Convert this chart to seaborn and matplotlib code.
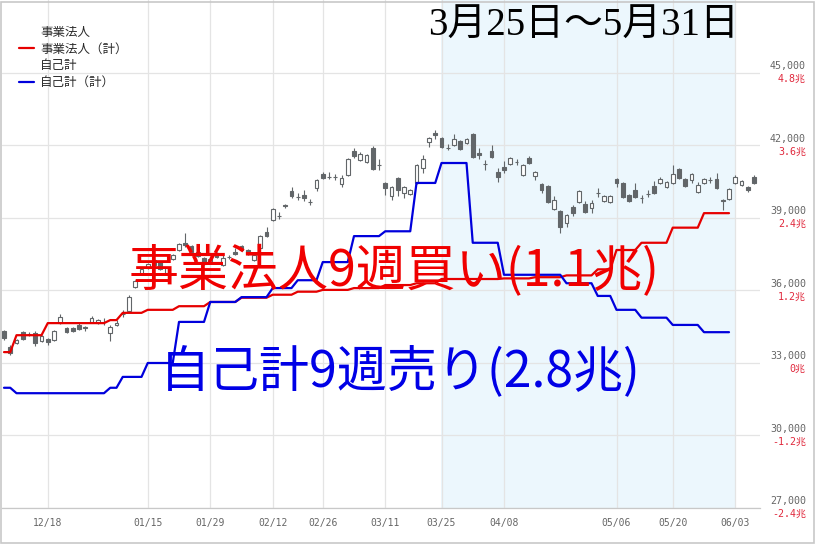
import numpy as np
import pandas as pd
import matplotlib
matplotlib.use("Agg")
import matplotlib.pyplot as plt
from matplotlib.lines import Line2D
from matplotlib.patches import Rectangle
import seaborn as sns

# ---------------- data ----------------
# daily candles (trading-day index 0 = 12/07 ... 120 = 06/06)
opens = [34320, 33660, 33830, 34280, 34200, 34240, 33910, 33990, 33950, 34660,
         34450, 34450, 34570, 34490, 34700, 34660, 34690, 34240, 34570, 35020,
         35150, 36140, 36680, 36930, 37260, 37180, 36720, 37300, 37680, 37970,
         37840, 37430, 37350, 37140, 37550, 37060, 37380, 37590, 37840, 37680,
         37260, 37760, 38420, 38920, 39070, 39540, 40120, 39880, 39950, 39670,
         40240, 40820, 40690, 40710, 40410, 40780, 41770, 41400, 41320, 41900,
         41200, 40450, 39910, 40660, 40030, 39990, 40450, 41070, 42150, 42520,
         42310, 41910, 42020, 42190, 42100, 42480, 41690, 41240, 41770, 40900,
         41110, 41230, 41310, 40780, 41480, 40740, 40410, 40320, 39370, 39290,
         38790, 39460, 39660, 39580, 39410, 40030, 39700, 39660, 40610, 40450,
         39950, 40160, 39830, 39990, 40320, 40450, 40280, 40450, 41030, 40610,
         40570, 40080, 40450, 40560, 40610, 39750, 39790, 40450, 40370, 40280,
         40700]
highs = [34370, 33740, 33990, 34320, 34280, 34320, 34160, 34030, 34370, 35030,
         34490, 34490, 34660, 34530, 34940, 34820, 34860, 34570, 34780, 35190,
         35810, 36430, 36930, 37140, 37350, 37220, 36970, 37510, 37970, 38380,
         37880, 37640, 37390, 37350, 37590, 37550, 37470, 37760, 37880, 37720,
         37510, 38300, 38630, 39410, 39250, 39580, 40280, 40030, 40160, 39790,
         40610, 40900, 40900, 40820, 40780, 41480, 41900, 41730, 41650, 41980,
         41440, 40490, 40320, 40700, 40320, 40200, 41230, 41610, 42350, 42640,
         42350, 42060, 42480, 42230, 42310, 42520, 41900, 41400, 42020, 41070,
         41360, 41520, 41440, 41230, 41570, 40940, 40450, 40370, 39910, 39330,
         39160, 39540, 40160, 39700, 39750, 40240, 39950, 39950, 40660, 40490,
         39990, 40450, 39950, 40160, 40530, 40700, 40530, 41190, 41070, 40660,
         40860, 40490, 40660, 40700, 40860, 39790, 40240, 40780, 40570, 40320,
         40780]
lows = [33950, 33330, 33790, 33950, 34120, 33700, 33870, 33740, 33910, 34610,
        34240, 34280, 34370, 34320, 34660, 34610, 34570, 33910, 34530, 34900,
        35110, 36100, 36640, 36890, 37010, 36850, 36680, 37260, 37640, 37800,
        37550, 37390, 37060, 37100, 37350, 37010, 37300, 37470, 37640, 37470,
        37220, 37720, 38210, 38880, 38960, 39410, 39830, 39750, 39700, 39540,
        40120, 40610, 40610, 40570, 40280, 40740, 41480, 41360, 41280, 40990,
        40990, 39950, 39750, 39910, 39830, 39950, 40410, 40860, 41940, 42270,
        41900, 41810, 41980, 41810, 42060, 41480, 41440, 40990, 41480, 40490,
        40860, 41190, 41190, 40740, 41230, 40570, 40030, 39620, 39330, 38380,
        38630, 39080, 39620, 39210, 39210, 39870, 39660, 39620, 40280, 39830,
        39660, 39830, 39620, 39870, 39990, 40410, 40240, 40410, 40610, 40280,
        40450, 40030, 40410, 40450, 40200, 39330, 39750, 40410, 40320, 40080,
        40410]
closes = [34030, 33410, 33950, 33990, 34190, 33830, 34120, 33870, 34320, 34900,
          34280, 34320, 34410, 34450, 34860, 34780, 34710, 34490, 34660, 35040,
          35730, 36390, 36890, 37100, 37060, 36890, 36930, 37470, 37920, 37880,
          37590, 37590, 37100, 37300, 37390, 37350, 37400, 37510, 37680, 37510,
          37470, 38260, 38260, 39370, 39090, 39500, 39910, 39860, 39830, 39650,
          40570, 40660, 40710, 40690, 40660, 41440, 41570, 41650, 41610, 41030,
          41180, 40240, 40280, 40160, 40280, 40160, 41190, 41440, 42310, 42430,
          41940, 41890, 42270, 41860, 42270, 41520, 41610, 41220, 41520, 40700,
          40990, 41480, 41330, 41190, 41280, 40900, 40160, 39660, 39750, 38630,
          39120, 39210, 40120, 39250, 39620, 40050, 39910, 39910, 40450, 39870,
          39700, 39870, 39820, 40000, 40030, 40610, 40490, 40820, 40660, 40320,
          40820, 40370, 40610, 40580, 40240, 39700, 40200, 40700, 40530, 40160,
          40450]

# trading days per week (weeks starting 12/04 ... 06/03)
week_lengths = [2, 5, 5, 5, 2, 4, 5, 5, 5, 5, 4, 4, 5, 5, 5, 4,
                5, 5, 5, 5, 5, 3, 4, 5, 5, 5, 4]
# weekly cumulative net buying (trillion yen), weeks 12/04 ... 05/27
corp_cum = [0.18, 0.46, 0.66, 0.66, 0.71, 0.83, 0.88, 0.94, 1.01, 1.08,
            1.13, 1.18, 1.21, 1.24, 1.29, 1.32, 1.39, 1.39, 1.40, 1.42,
            1.45, 1.55, 1.87, 1.99, 2.24, 2.48]
prop_cum = [-0.41, -0.50, -0.50, -0.50, -0.41, -0.23, 0.00, 0.68, 1.01, 1.09,
            1.24, 1.37, 1.67, 2.10, 2.18, 2.98, 3.31, 1.99, 1.46, 1.46,
            1.32, 1.11, 0.88, 0.75, 0.63, 0.51]

tick_idx = [7, 23, 33, 43, 51, 61, 70, 80, 98, 107, 117]
tick_labels = ["12/18", "01/15", "01/29", "02/12", "02/26", "03/11",
               "03/25", "04/08", "05/06", "05/20", "06/03"]
price_ticks = [27000, 30000, 33000, 36000, 39000, 42000, 45000]
price_labels = ["27,000", "30,000", "33,000", "36,000", "39,000", "42,000", "45,000"]
cho_labels = ["-2.4兆", "-1.2兆", "0兆", "1.2兆", "2.4兆", "3.6兆", "4.8兆"]
shade_span = (69.9, 117.0)

title_text = "3月25日～5月31日"
corp_text = "事業法人9週買い(1.1兆)"
prop_text = "自己計9週売り(2.8兆)"
legend_labels = ["事業法人", "事業法人（計）", "自己計", "自己計（計）"]

# ---------------- style ----------------
sns.set_theme(style="white")
plt.rcParams["font.family"] = ["DejaVu Sans", "Noto Sans CJK JP"]

W, H = 816, 544
fig = plt.figure(figsize=(W / 100, H / 100), dpi=100)
fig.patch.set_facecolor("white")
ax = fig.add_axes([2 / W, 36 / H, 758 / W, 508 / H])

YLO, YHI = 27000, 48020
XLO, XHI = -0.32, 120.96

ax.set_xlim(XLO, XHI)
ax.set_ylim(YLO, YHI)
ax.set_axisbelow(True)
ax.axvspan(*shade_span, color="#ecf7fd", lw=0, zorder=0)

ax.set_yticks(price_ticks)
ax.set_yticklabels([])
ax.tick_params(axis="y", length=0)
ax.set_xticks(tick_idx)
ax.set_xticklabels(tick_labels)
ax.tick_params(axis="x", length=6, width=0.8, color="#c8c8c8", pad=1,
               labelsize=7, labelcolor="#666666")
for lab in ax.get_xticklabels():
    lab.set_fontfamily("DejaVu Sans Mono")
ax.grid(True, color="#e4e4e4", lw=0.9)
for s in ["left", "right", "top"]:
    ax.spines[s].set_visible(False)
ax.spines["bottom"].set_color("#c8c8c8")
ax.spines["bottom"].set_linewidth(0.9)

# candles
df = pd.DataFrame({"o": opens, "h": highs, "l": lows, "c": closes})
df["x"] = np.arange(len(df))
up = df["c"] >= df["o"]
edge = "#626669"
ax.vlines(df["x"], df["l"], df["h"], color=edge, lw=0.8, zorder=2)
body_lo = np.minimum(df["o"], df["c"])
body_h = (df["c"] - df["o"]).abs()
ax.bar(df["x"][up], body_h[up], bottom=body_lo[up], width=0.62,
       color="white", edgecolor=edge, linewidth=0.8, zorder=3)
ax.bar(df["x"][~up], body_h[~up], bottom=body_lo[~up], width=0.62,
       color=edge, edgecolor=edge, linewidth=0.8, zorder=3)

# right axis labels
for v, p, c in zip(price_ticks, price_labels, cho_labels):
    ax.annotate(p, xy=(1, v), xycoords=("axes fraction", "data"),
                xytext=(33, 5), textcoords="offset points", ha="right",
                va="center", fontsize=7.2, color="#666666",
                family="DejaVu Sans Mono", annotation_clip=False)
    ax.annotate(c, xy=(1, v), xycoords=("axes fraction", "data"),
                xytext=(33, -4.5), textcoords="offset points", ha="right",
                va="center", fontsize=7.2, color="#e0283c",
                family=["DejaVu Sans Mono", "Noto Sans CJK JP"],
                annotation_clip=False)

# cumulative lines on trillion-yen scale
ax2 = ax.twinx()
n_days = sum(week_lengths[:len(corp_cum)])
days = np.arange(n_days)
corp_daily = np.repeat(corp_cum, week_lengths[:len(corp_cum)])
prop_daily = np.repeat(prop_cum, week_lengths[:len(prop_cum)])
sns.lineplot(x=days, y=corp_daily, ax=ax2, color="#e60000", lw=1.6,
             legend=False)
sns.lineplot(x=days, y=prop_daily, ax=ax2, color="#0000dc", lw=1.6,
             legend=False)
ax2.set_ylim((YLO - 33000) / 2500, (YHI - 33000) / 2500)
ax2.set_xlim(XLO, XHI)
ax2.set_yticks([])
ax2.set_xlabel("")
ax2.set_ylabel("")
ax2.grid(False)
for s in ax2.spines.values():
    s.set_visible(False)
ax.set_xlabel("")
ax.set_ylabel("")

# legend
handles = [Line2D([], [], color="none"),
           Line2D([], [], color="#e60000", lw=1.6),
           Line2D([], [], color="none"),
           Line2D([], [], color="#0000dc", lw=1.6)]
fig.legend(handles, legend_labels, loc="upper left",
           bbox_to_anchor=(19 / W, 1 - 26 / H), frameon=False,
           prop={"family": "Noto Sans CJK JP", "size": 9},
           labelcolor="#2a2a2a", handlelength=1.2, handletextpad=0.48,
           labelspacing=0.3, borderpad=0, borderaxespad=0)

# overlay texts
fig.text(583 / W, 1 - 26 / H, title_text, ha="center", va="center",
         fontsize=28, color="black",
         family=["Liberation Serif", "Noto Sans CJK JP"], zorder=5)
fig.text(394 / W, 1 - 272 / H, corp_text, ha="center", va="center",
         fontsize=36, color="#f00000", family="Noto Sans CJK JP", zorder=5)
fig.text(400 / W, 1 - 372 / H, prop_text, ha="center", va="center",
         fontsize=36, color="#0000e6", family="Noto Sans CJK JP", zorder=5)

fig.patches.append(Rectangle((1 / W, 1 / H), 1 - 3 / W, 1 - 3 / H,
                             transform=fig.transFigure, fill=False,
                             edgecolor="#c8c8c8", lw=1.2))

fig.savefig("out.png", dpi=100)
